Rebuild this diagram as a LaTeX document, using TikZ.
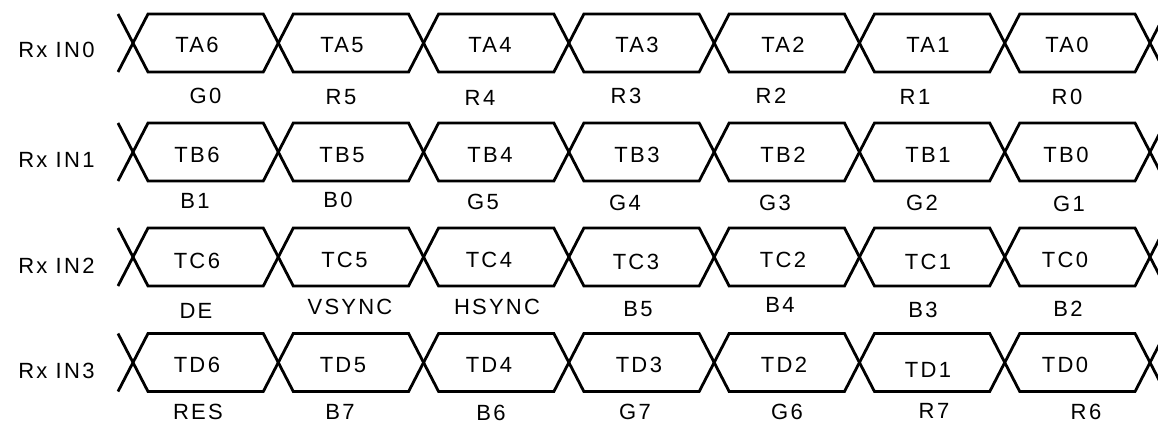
\documentclass[tikz,border=0pt]{standalone}
\usepackage{fontspec}
\newfontfamily\diagfont{Liberation Sans}[LetterSpace=10]
\newcommand\dk{\kern2.5pt\relax}
\begin{document}
\begin{tikzpicture}[x=1pt,y=-1pt,
  wave/.style={line width=2.8pt, line join=miter, line cap=butt},
  lbl/.style={font=\diagfont\fontsize{22}{22}\selectfont, inner sep=0pt, anchor=base, text depth=0pt}]
\useasboundingbox (0,0) rectangle (1158,421);
\clip (0,0) rectangle (1158,421);
% waveforms
\foreach \ym in {43,152,257,362.5} {
  \foreach \k in {0,...,6} {
    \pgfmathsetmacro\xa{133+145.29*\k}
    \pgfmathsetmacro\xb{\xa+145.29}
    \draw[wave] (\xa,\ym) -- (\xa+15,\ym-29) -- (\xb-15,\ym-29) -- (\xb,\ym);
    \draw[wave] (\xa,\ym) -- (\xa+15,\ym+29) -- (\xb-15,\ym+29) -- (\xb,\ym);
  }
  \draw[wave] (118,\ym-29) -- (133,\ym);
  \draw[wave] (118,\ym+29) -- (133,\ym);
  \draw[wave] (1150,\ym) -- (1165,\ym-29);
  \draw[wave] (1150,\ym) -- (1165,\ym+29);
}
% row labels
\node[lbl] (rx0) at (56.5,50+7.9) {Rx IN\dk0};
\node[lbl] (rx1) at (56.5,160+7.9) {Rx IN\dk1};
\node[lbl] (rx2) at (56.5,265.5+7.9) {Rx IN\dk2};
\node[lbl] (rx3) at (56.5,370.5+7.9) {Rx IN\dk3};
% in-box labels
\foreach \t/\x/\y [count=\i] in {TA\dk6/197/45,TA\dk5/342/45,TA\dk4/490/45,TA\dk3/637/45,TA\dk2/783/45,TA\dk1/928/45,TA\dk0/1067/45,
  TB\dk6/197/155,TB\dk5/342/155,TB\dk4/490/155,TB\dk3/637/155,TB\dk2/783/155,TB\dk1/928/155,TB\dk0/1066/155,
  TC\dk6/197/261,TC\dk5/344.5/260,TC\dk4/489/260,TC\dk3/636/262,TC\dk2/783/260,TC\dk1/928/262,TC\dk0/1065/260,
  TD\dk6/197/365,TD\dk5/343/365,TD\dk4/489/365,TD\dk3/639/365,TD\dk2/784/365,TD\dk1/928/370,TD\dk0/1065/365}
  \node[lbl] (in\i) at (\x,\y+7.9) {\t};
% bit labels below
\foreach \t/\x/\y [count=\i] in {G\dk0/205.5/95.8,R\dk5/341/96.5,R\dk4/480/98,R\dk3/626/96,R\dk2/771/96,R\dk1/915/96.5,R\dk0/1067/97,
  B\dk1/195/201,B\dk0/338/200,G\dk5/483/202,G\dk4/625/203,G\dk3/775/203,G\dk2/922/202.5,G\dk1/1069/204,
  DE/196/311,VSYNC/350/307,HSYNC/497/307,B\dk5/638/309,B\dk4/780/305,B\dk3/923/310,B\dk2/1068/308.5,
  RES/198/411.5,B\dk7/340/412,B\dk6/491/412.5,G\dk7/635/411.5,G\dk6/787/412,R\dk7/934/411,R\dk6/1086/411.5}
  \node[lbl] (bit\i) at (\x,\y+7.9) {\t};
\end{tikzpicture}
\end{document}
